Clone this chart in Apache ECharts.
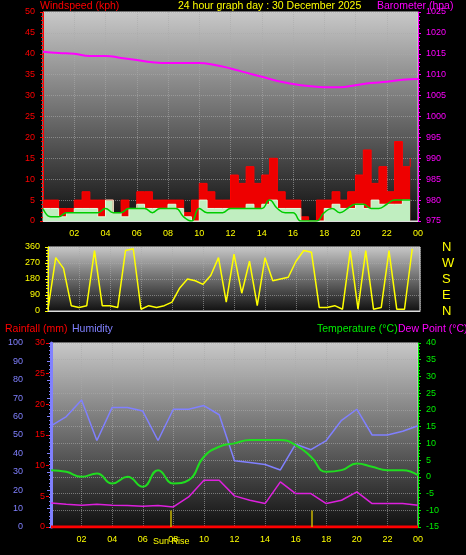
<!DOCTYPE html>
<html><head><meta charset="utf-8">
<script src="https://cdn.jsdelivr.net/npm/echarts@6/dist/echarts.min.js"></script>
<style>html,body{margin:0;background:#000}#c{width:466px;height:555px}</style>
</head><body><div id="c"></div>
<script>
// half-hour times 0..23.5
const halfHours = Array.from({length:48},(_,i)=>i/2);
const hours = Array.from({length:25},(_,i)=>i);
const windGust = [5,5,3,3,5,7,5,5,5,2,5,3,7,7,5,5,5,5,2,5,9,7,5,5,11,9,13,9,11,15,7,5,5,1,0,5,5,7,5,7,11,17,9,13,7,19,13,15];
const windSpeed = [3,3,1,2,3,3,3,1,5,2,1,3,4,3,3,3,4,3,1,0,5,3,3,3,3,3,4,3,4,5,3,3,3,0,0,0,3,4,3,3,4,3,5,4,4,4,5,5];
const windAvg = [3,1,1,2,2,2,2,2,3,2,2,3,3,3,2,3,3,3,1,0,3,2,2,2,3,3,3,3,3,5,3,2,2,0,0,0,2,3,2,3,4,4,3,3,4,5,5,5];
const barometer = [1015.5,1015.2,1015,1014.5,1014.5,1014,1013.5,1013,1012.8,1012.8,1012.8,1012.3,1011.5,1010.5,1009.5,1008.5,1007.8,1007.3,1007,1007,1007.5,1008,1008.3,1008.8,1009];
const windDir = [10,300,240,30,20,30,340,30,30,20,340,350,10,30,20,30,50,130,180,170,150,200,300,50,320,100,280,30,300,170,180,190,280,340,330,20,20,30,10,340,10,340,10,20,340,10,10,350];
const humidity = [55,60,69,47,65,65,63,47,64,64,66,61,36,35,34,31,45,42,47,58,64,50,50,52,55];
const temperature = [2,1.5,0,1,-2,0,-3,2,-2,-1,6,9,10,11,11,11,9.5,6,1.5,2,4,3,2,2,0.5];
const dewPoint = [-7.8,-8.2,-8.5,-8.2,-8.5,-8.6,-8.8,-8.6,-9,-6,-1,-1,-5.7,-7,-8,-1.5,-5,-5,-8,-7,-4.5,-8,-8,-8,-8.5];
const rainfall = [0,0,0,0,0,0,0,0,0,0,0,0,0,0,0,0,0,0,0,0,0,0,0,0,0];
const sunEvents = [7.85,17.07];
const dirLabels = {0:'N',90:'E',180:'S',270:'W',360:'N'};

const pair=(xs,ys)=>xs.map((x,i)=>[x,ys[i]]);
const bg={type:'linear',x:0,y:0,x2:0,y2:1,colorStops:[{offset:0,color:'#c8c8c8'},{offset:1,color:'#101010'}]};
const hh=v=>v===0?'':String(v%24).padStart(2,'0');
const F='Liberation Sans';
const xCommon=(gi,show)=>({type:'value',gridIndex:gi,min:0,max:24,interval:2,
  axisLine:{lineStyle:{color:'#ddd'}},axisTick:{show:false},
  axisLabel:{show:show,color:'#ffff00',fontSize:9,fontFamily:F,formatter:hh},
  splitLine:{show:true,lineStyle:{color:'#aaa',type:'dotted',opacity:0.6}}});
const ax=(o)=>Object.assign({type:'value',splitLine:{show:false},axisTick:{show:true,length:3},minorTick:{show:true,splitNumber:5,length:2}},o);
const lab=(c,extra)=>Object.assign({color:c,fontSize:9,fontFamily:F,formatter:v=>String(v)},extra||{});
const ttl=(t,l,tp,c)=>({text:t,left:l,top:tp,textStyle:{color:c,fontSize:10.5,fontWeight:'normal',fontFamily:F}});
const chart=echarts.init(document.getElementById('c'));
chart.setOption({
  backgroundColor:'#000',animation:false,
  title:[
    ttl('Windspeed (kph)',35,-4,'#ff0000'),
    ttl('24 hour graph day : 30 December 2025',173,-4,'#ffff00'),
    ttl('Barometer (hpa)',372,-4,'#ff00ff'),
    ttl('Rainfall (mm)',0,319,'#ff0000'),
    ttl('Humidity',67,319,'#8080ff'),
    ttl('Temperature (°C)',312,319,'#00ee00'),
    ttl('Dew Point (°C)',393,319,'#ff00ff')
  ],
  grid:[
    {left:43,width:375,top:12,height:209,show:true,backgroundColor:bg,borderColor:'#ddd'},
    {left:48,width:372,top:247,height:64,show:true,backgroundColor:bg,borderColor:'#ddd'},
    {left:51,width:367,top:343,height:184,show:true,backgroundColor:bg,borderColor:'#ddd'}
  ],
  xAxis:[xCommon(0,true),xCommon(1,false),xCommon(2,true)],
  yAxis:[
    ax({gridIndex:0,position:'left',min:0,max:50,interval:5,axisLine:{show:true,lineStyle:{color:'#ff0000'}},axisLabel:lab('#ff0000'),splitLine:{show:true,lineStyle:{color:'#aaa',type:'dotted',opacity:0.6}}}),
    ax({gridIndex:0,min:975,max:1025,interval:5,position:'right',axisLine:{show:true,lineStyle:{color:'#ff00ff'}},axisLabel:lab('#ff00ff')}),
    ax({gridIndex:1,position:'left',min:0,max:360,interval:90,axisLine:{show:true,lineStyle:{color:'#ffff00'}},axisLabel:lab('#ffff00'),splitLine:{show:true,lineStyle:{color:'#aaa',type:'dotted',opacity:0.6}}}),
    {type:'value',gridIndex:1,min:0,max:360,interval:90,position:'right',offset:14,axisLine:{show:false},axisTick:{show:false},splitLine:{show:false},
      axisLabel:{color:'#ffff00',fontSize:13,fontFamily:F,formatter:v=>dirLabels[v]}},
    ax({gridIndex:2,position:'left',min:0,max:100,interval:10,offset:20,axisLine:{show:true,lineStyle:{color:'#8080ff',width:3}},axisLabel:lab('#8080ff'),axisTick:{show:true,length:4,lineStyle:{color:'#8080ff'}}}),
    ax({gridIndex:2,position:'left',offset:2,min:0,max:30,interval:5,axisLine:{show:false},axisLabel:lab('#ff0000',{margin:4}),axisTick:{show:true,length:3,lineStyle:{color:'#ff0000'}},minorTick:{show:false}}),
    ax({gridIndex:2,min:-15,max:40,interval:5,position:'right',axisLine:{show:true,lineStyle:{color:'#00ee00'}},axisLabel:lab('#00ee00'),splitLine:{show:true,lineStyle:{color:'#aaa',type:'dotted',opacity:0.6}}})
  ],
  series:[
    {type:'line',xAxisIndex:0,yAxisIndex:0,step:'end',data:pair(halfHours,windGust),symbol:'none',lineStyle:{color:'#ff0000',width:1},areaStyle:{color:'#ee0000',opacity:1}},
    {type:'line',xAxisIndex:0,yAxisIndex:0,step:'end',data:pair(halfHours,windSpeed),symbol:'none',lineStyle:{color:'#e0ffe0',width:1},areaStyle:{color:'#c0eec0',opacity:1}},
    {type:'line',xAxisIndex:0,yAxisIndex:0,smooth:true,data:pair(halfHours,windAvg),symbol:'none',lineStyle:{color:'#00cc00',width:1.5}},
    {type:'line',xAxisIndex:0,yAxisIndex:1,smooth:true,data:pair(hours,barometer),symbol:'none',lineStyle:{color:'#ff00ff',width:2}},
    {type:'line',xAxisIndex:1,yAxisIndex:2,data:pair(halfHours,windDir),symbol:'none',lineStyle:{color:'#ffff00',width:1.5}},
    {type:'line',xAxisIndex:2,yAxisIndex:4,data:pair(hours,humidity),symbol:'none',lineStyle:{color:'#8080ff',width:1.5}},
    {type:'line',xAxisIndex:2,yAxisIndex:5,data:pair(hours,rainfall),symbol:'none',lineStyle:{color:'#ff0000',width:3},
      markLine:{symbol:'none',silent:true,label:{show:false},lineStyle:{color:'#c8b400',type:'solid',width:1.5},
        data:sunEvents.map(s=>[{coord:[s,0]},{coord:[s,2.7]}])}},
    {type:'line',xAxisIndex:2,yAxisIndex:6,smooth:true,data:pair(hours,temperature),symbol:'none',lineStyle:{color:'#20dd20',width:2}},
    {type:'line',xAxisIndex:2,yAxisIndex:6,data:pair(hours,dewPoint),symbol:'none',lineStyle:{color:'#dd20dd',width:1.5}}
  ],
  graphic:[{type:'text',left:153,top:537,style:{text:'Sun Rise',fill:'#ffff00',font:'9px Liberation Sans'}}]
});
</script></body></html>
